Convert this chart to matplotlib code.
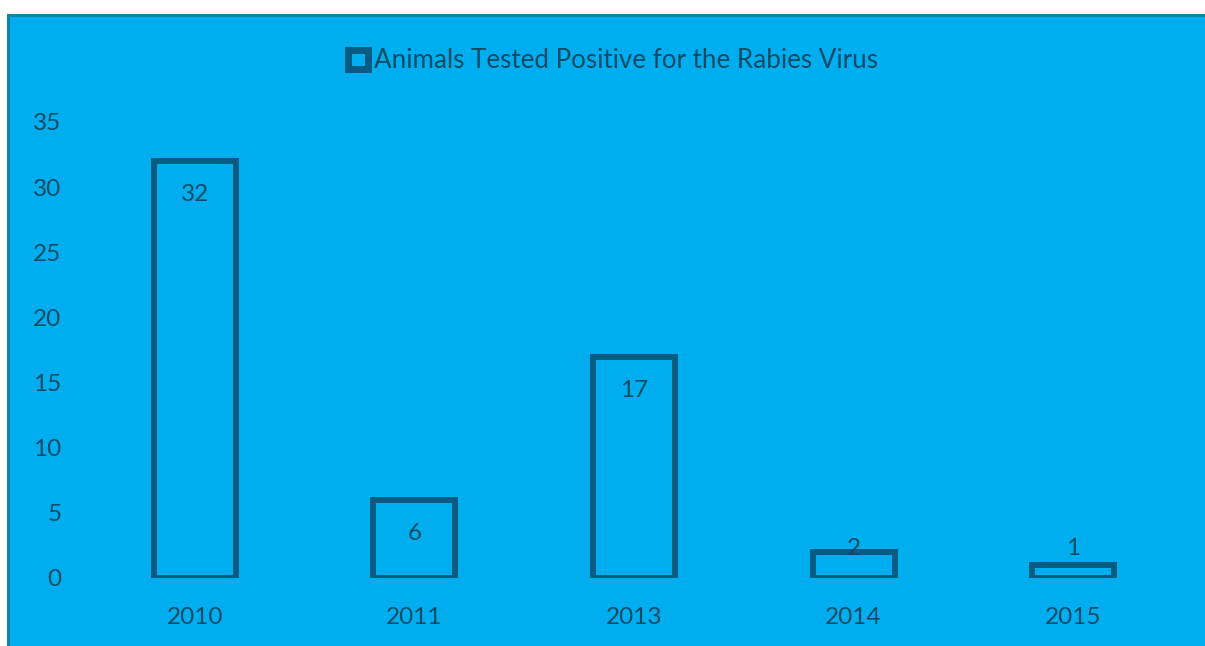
import matplotlib.pyplot as plt
from matplotlib.patches import Patch, Rectangle

years = ["2010", "2011", "2013", "2014", "2015"]
positives = [32, 6, 17, 2, 1]
yticks = [0, 5, 10, 15, 20, 25, 30, 35]

bg = "#00AEEF"
dark = "#0A5B82"
txt = "#0B4B66"

plt.rcParams['font.family'] = ['Lato', 'DejaVu Sans']

fig = plt.figure(figsize=(12.05, 6.46), dpi=100)
fig.patch.set_facecolor("white")
# chart area with thin border on top/left
fig.patches.append(Rectangle((8 / 1205, -0.05), 1.1, 1 - 15 / 646 + 0.05,
                             transform=fig.transFigure, facecolor=bg,
                             edgecolor="#0A86A8", linewidth=2.2, zorder=-10))

ax = fig.add_axes([85 / 1205, 68 / 646, 1098 / 1205, 456 / 646])
ax.set_facecolor("none")
x = range(len(years))
ax.bar(x, positives, width=0.373, facecolor="none", edgecolor=dark, linewidth=4.3)
ax.set_xlim(-0.5, len(years) - 0.5)
ax.set_ylim(0, 35)
ax.set_yticks(yticks)
ax.set_xticks(list(x))
ax.set_xticklabels(years)
for s in ax.spines.values():
    s.set_visible(False)
ax.tick_params(length=0, labelsize=17.5, colors=txt)
ax.tick_params(axis='y', pad=17)
ax.tick_params(axis='x', pad=21)

for i, v in enumerate(positives):
    ax.text(i, max(v - 2.6, 2.3), str(v), ha='center', va='center',
            fontsize=17.5, color=txt)

leg = fig.legend(handles=[Patch(facecolor=bg, edgecolor=dark, linewidth=5,
                                label="Animals Tested Positive for the Rabies Virus")],
                 loc='center', bbox_to_anchor=(0.509, 1 - 61 / 646), frameon=False,
                 handlelength=0.75, handleheight=0.75, handletextpad=0.25,
                 fontsize=18.7, labelcolor=txt)

fig.savefig("out.png", dpi=100)
